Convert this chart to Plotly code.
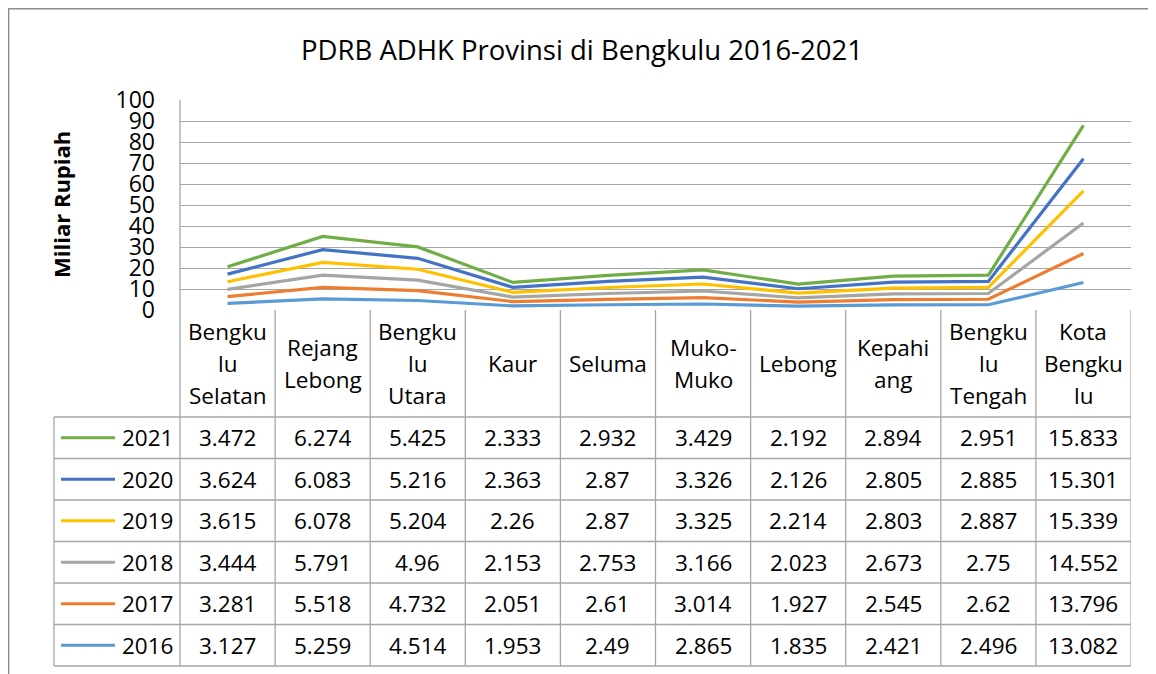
import plotly.graph_objects as go

categories = ["Bengkulu Selatan", "Rejang Lebong", "Bengkulu Utara", "Kaur", "Seluma",
              "Muko-Muko", "Lebong", "Kepahiang", "Bengkulu Tengah", "Kota Bengkulu"]
category_labels = [["Bengku", "lu", "Selatan"], ["Rejang", "Lebong"], ["Bengku", "lu", "Utara"],
                   ["Kaur"], ["Seluma"], ["Muko-", "Muko"], ["Lebong"], ["Kepahi", "ang"],
                   ["Bengku", "lu", "Tengah"], ["Kota", "Bengku", "lu"]]

years = ["2016", "2017", "2018", "2019", "2020", "2021"]
v2016 = [3.127, 5.259, 4.514, 1.953, 2.49, 2.865, 1.835, 2.421, 2.496, 13.082]
v2017 = [3.281, 5.518, 4.732, 2.051, 2.61, 3.014, 1.927, 2.545, 2.62, 13.796]
v2018 = [3.444, 5.791, 4.96, 2.153, 2.753, 3.166, 2.023, 2.673, 2.75, 14.552]
v2019 = [3.615, 6.078, 5.204, 2.26, 2.87, 3.325, 2.214, 2.803, 2.887, 15.339]
v2020 = [3.624, 6.083, 5.216, 2.363, 2.87, 3.326, 2.126, 2.805, 2.885, 15.301]
v2021 = [3.472, 6.274, 5.425, 2.333, 2.932, 3.429, 2.192, 2.894, 2.951, 15.833]
series = [v2016, v2017, v2018, v2019, v2020, v2021]
colors = ["#5B9BD5", "#ED7D31", "#A5A5A5", "#FFC000", "#4472C4", "#70AD47"]

y_ticks = list(range(0, 101, 10))

W, H = 1156, 674
OFF = 8  # page body margin offset
L, R, T, B = 180, 1131, 100, 310
FONT = "Open Sans"
GRID = "#A6A6A6"


def xp(px):
    return (px - L) / (R - L)


def yp(py):
    return (B - py) / (B - T)


fig = go.Figure()
for yr, vals, col in zip(years, series, colors):
    fig.add_trace(go.Scatter(x=categories, y=vals, name=yr, mode="lines",
                             stackgroup="pdrb", fill="none",
                             line=dict(color=col, width=3.2, shape="linear"),
                             hoverinfo="x+y+name"))

shapes = []
ann = []

# outer chart border
shapes.append(dict(type="line", xref="paper", yref="paper", x0=xp(8), x1=xp(1170), y0=yp(8.7), y1=yp(8.7),
                   line=dict(color="#8C8C8C", width=1.4)))
shapes.append(dict(type="line", xref="paper", yref="paper", x0=xp(8.7), x1=xp(8.7), y0=yp(8), y1=yp(690),
                   line=dict(color="#8C8C8C", width=1.4)))

# data table geometry
header_bottom = 417
row_h = (666 - 417) / 6
table_bottom = 666
leg_left = 54
n = len(categories)

# left plot border
shapes.append(dict(type="line", xref="paper", yref="paper", x0=0, x1=0, y0=1, y1=yp(table_bottom),
                   line=dict(color=GRID, width=1.3)))
# column separators in header and rows
for k in range(1, n + 1):
    shapes.append(dict(type="line", xref="x", yref="paper", x0=k - 0.5, x1=k - 0.5,
                       y0=0, y1=yp(table_bottom), line=dict(color=GRID, width=1.3)))
# legend column left border
shapes.append(dict(type="line", xref="paper", yref="paper", x0=xp(leg_left), x1=xp(leg_left),
                   y0=yp(header_bottom), y1=yp(table_bottom), line=dict(color=GRID, width=1.3)))
# horizontal row lines
for r in range(7):
    yy = header_bottom + r * row_h
    shapes.append(dict(type="line", xref="paper", yref="paper", x0=xp(leg_left), x1=1,
                       y0=yp(yy), y1=yp(yy), line=dict(color=GRID, width=1.3)))

TS = 22.5
# header labels
hc = (B + header_bottom) / 2
for i, lines in enumerate(category_labels):
    m = len(lines)
    for j, t in enumerate(lines):
        yy = hc + (j - (m - 1) / 2) * 32
        ann.append(dict(x=i, xref="x", y=yp(yy), yref="paper", text=t, showarrow=False,
                        xanchor="center", yanchor="middle", font=dict(family=FONT, size=TS, color="#000000")))

# rows: 2021 at top
order = list(range(len(years)))[::-1]
for r, si in enumerate(order):
    yc = header_bottom + (r + 0.5) * row_h
    shapes.append(dict(type="line", xref="paper", yref="paper", x0=xp(61), x1=xp(115),
                       y0=yp(yc), y1=yp(yc), line=dict(color=colors[si], width=3.2)))
    ann.append(dict(x=xp(175), xref="paper", y=yp(yc), yref="paper", text=years[si], showarrow=False,
                    xanchor="right", yanchor="middle", font=dict(family=FONT, size=TS, color="#000000")))
    for i, v in enumerate(series[si]):
        ann.append(dict(x=i, xref="x", y=yp(yc), yref="paper", text=repr(v), showarrow=False,
                        xanchor="center", yanchor="middle", font=dict(family=FONT, size=TS, color="#000000")))

# title
ann.append(dict(x=xp(582), xref="paper", y=yp(50), yref="paper",
                text="PDRB ADHK Provinsi di Bengkulu 2016-2021", showarrow=False,
                xanchor="center", yanchor="middle", font=dict(family=FONT, size=27.5, color="#000000")))
# y axis title
ann.append(dict(x=xp(61), xref="paper", y=yp(205), yref="paper", text="<b>Miliar Rupiah</b>",
                showarrow=False, textangle=-90, xanchor="center", yanchor="middle",
                font=dict(family=FONT, size=22, color="#000000")))

fig.update_layout(
    width=W, height=H,
    margin=dict(l=L - OFF, r=W - R + OFF, t=T - OFF, b=H - B + OFF),
    paper_bgcolor="white", plot_bgcolor="white",
    showlegend=False,
    shapes=shapes, annotations=ann,
    xaxis=dict(type="category", categoryorder="array", categoryarray=categories,
               range=[-0.5, n - 0.5], showticklabels=False, showgrid=False, zeroline=False,
               showline=False, ticks=""),
    yaxis=dict(range=[0, 100], tickvals=y_ticks, ticktext=[str(t) for t in y_ticks],
               showgrid=True, gridcolor=GRID, gridwidth=1.3, zeroline=False, showline=False,
               ticks="", ticklabelstandoff=24,
               tickfont=dict(family=FONT, size=23, color="#000000")),
)

fig.write_html("out.html")
